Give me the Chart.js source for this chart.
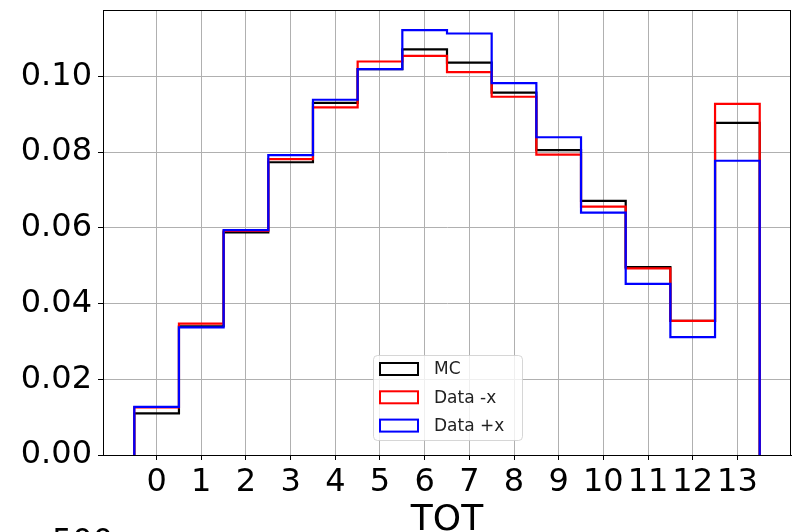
<!DOCTYPE html>
<html>
<head>
<meta charset="utf-8">
<script src="https://cdn.jsdelivr.net/npm/chart.js@4.4.0/dist/chart.umd.min.js"></script>
<style>
  html, body { margin: 0; padding: 0; background: #fff; overflow: hidden; }
  #wrap { position: relative; width: 793px; height: 532px; }
</style>
</head>
<body>
<div id="wrap"><canvas id="histChart" width="793" height="532"></canvas></div>
<script>
// TOT bins and normalised counts
const bins = [0, 1, 2, 3, 4, 5, 6, 7, 8, 9, 10, 11, 12, 13];
const mcVals    = [0.0110, 0.0340, 0.0588, 0.0773, 0.0930, 0.1019, 0.1071, 0.1036, 0.0957, 0.0805, 0.0671, 0.0496, 0.0354, 0.0877];
const dataMinus = [0.0126, 0.0347, 0.0592, 0.0781, 0.0918, 0.1039, 0.1054, 0.1011, 0.0946, 0.0793, 0.0656, 0.0493, 0.0354, 0.0927];
const dataPlus  = [0.0127, 0.0337, 0.0594, 0.0792, 0.0938, 0.1019, 0.1122, 0.1113, 0.0982, 0.0839, 0.0640, 0.0452, 0.0311, 0.0777];
const yTicks = [0.00, 0.02, 0.04, 0.06, 0.08, 0.10];
const seriesNames = ['MC', 'Data -x', 'Data +x'];
const seriesColors = ['#000000', '#ff0000', '#0000ff'];

// histtype='step' outline: up at the first edge, flat across each bin, down at the last edge
function stepOutline(vals) {
    const pts = [{ x: bins[0] - 0.5, y: 0 }];
    vals.forEach((v, i) => {
        pts.push({ x: bins[i] - 0.5, y: v });
        pts.push({ x: bins[i] + 0.5, y: v });
    });
    pts.push({ x: bins[bins.length - 1] + 0.5, y: 0 });
    return pts;
}

const FONT = 'DejaVu Sans';

// axes frame, legend box and the axis label
const decorPlugin = {
    id: 'decor',
    afterDraw(chart) {
        const ctx = chart.ctx;
        const a = chart.chartArea;
        ctx.save();
        ctx.strokeStyle = '#000';
        ctx.lineWidth = 1;
        ctx.strokeRect(a.left + 0.5, a.top + 0.5, a.right - a.left - 1, a.bottom - a.top);

        // legend
        const lx = 373, ly = 355, lw = 149, lh = 85, r = 4;
        ctx.beginPath();
        ctx.roundRect(lx + 0.5, ly + 0.5, lw, lh, r);
        ctx.fillStyle = 'rgba(255,255,255,0.8)';
        ctx.fill();
        ctx.strokeStyle = 'rgba(204,204,204,0.8)';
        ctx.lineWidth = 1;
        ctx.stroke();
        ctx.font = '17px "' + FONT + '"';
        ctx.textBaseline = 'middle';
        ctx.textAlign = 'left';
        seriesNames.forEach((name, i) => {
            const cy = 369 + i * 28.3;
            ctx.strokeStyle = seriesColors[i];
            ctx.lineWidth = 2;
            ctx.fillStyle = '#fff';
            ctx.fillRect(380, cy - 6, 38, 12);
            ctx.strokeRect(380, cy - 6, 38, 12);
            ctx.fillStyle = '#222';
            ctx.fillText(name, 434, cy + 1);
        });

        // x axis label, cut by the bottom edge like the source
        ctx.fillStyle = '#000';
        ctx.font = '36px "' + FONT + '"';
        ctx.textAlign = 'center';
        ctx.textBaseline = 'alphabetic';
        ctx.fillText('TOT', (a.left + a.right) / 2, 530);
        // top of the next panel's tick label peeking in
        ctx.textAlign = 'right';
        ctx.font = '32px "' + FONT + '"';
        ctx.fillText('500', 113, 551);
        ctx.restore();
    }
};

const ctx = document.getElementById('histChart').getContext('2d');
new Chart(ctx, {
    type: 'line',
    data: {
        datasets: [
            { label: seriesNames[0], data: stepOutline(mcVals), borderColor: seriesColors[0], order: 3 },
            { label: seriesNames[1], data: stepOutline(dataMinus), borderColor: seriesColors[1], order: 2 },
            { label: seriesNames[2], data: stepOutline(dataPlus), borderColor: seriesColors[2], order: 1 }
        ]
    },
    options: {
        responsive: false,
        animation: false,
        devicePixelRatio: 1,
        layout: { padding: { top: 10, right: 2, left: 0, bottom: 0 } },
        elements: {
            line: { borderWidth: 2.2, tension: 0, fill: false, borderJoinStyle: 'miter', borderCapStyle: 'butt' },
            point: { radius: 0, hoverRadius: 0 }
        },
        plugins: {
            legend: { display: false },
            tooltip: { enabled: false }
        },
        scales: {
            x: {
                type: 'linear',
                min: -1.2,
                max: 14.2,
                afterBuildTicks: scale => { scale.ticks = bins.map(v => ({ value: v })); },
                afterFit: scale => {
                    scale.height = 77;
                    scale.paddingLeft = 0;
                    scale.paddingRight = 0;
                },
                ticks: {
                    color: '#000',
                    font: { family: FONT, size: 32 },
                    padding: 3,
                    maxRotation: 0,
                    autoSkip: false,
                    callback: v => String(v)
                },
                grid: { color: '#b0b0b0', lineWidth: 1, tickLength: 5, tickColor: '#000' },
                border: { color: '#000', width: 1 }
            },
            y: {
                min: 0,
                max: 0.1175,
                afterBuildTicks: scale => { scale.ticks = yTicks.map(v => ({ value: v })); },
                afterFit: scale => {
                    scale.width = 103;
                    scale.paddingTop = 0;
                    scale.paddingBottom = 0;
                },
                ticks: {
                    color: '#000',
                    font: { family: FONT, size: 32 },
                    padding: 6,
                    callback: v => v.toFixed(2)
                },
                grid: { color: '#b0b0b0', lineWidth: 1, tickLength: 5, tickColor: '#000' },
                border: { color: '#000', width: 1 }
            }
        }
    },
    plugins: [decorPlugin]
});
</script>
</body>
</html>
